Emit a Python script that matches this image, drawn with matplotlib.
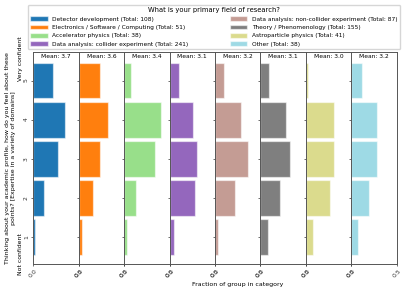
import matplotlib
matplotlib.use("Agg")
import matplotlib.pyplot as plt
import numpy as np

# answer levels (1 = not confident, 5 = very confident)
levels = [1, 2, 3, 4, 5]

groups = [
    "Detector development",
    "Electronics / Software / Computing",
    "Accelerator physics",
    "Data analysis: collider experiment",
    "Data analysis: non-collider experiment",
    "Theory / Phenomenology",
    "Astroparticle physics",
    "Other",
]
totals = [108, 51, 38, 241, 87, 155, 41, 38]
means = [3.7, 3.6, 3.4, 3.1, 3.2, 3.1, 3.0, 3.2]

# fraction of group per level
frac_detector = [0.019, 0.119, 0.270, 0.344, 0.222]
frac_electronics = [0.040, 0.155, 0.230, 0.320, 0.230]
frac_accelerator = [0.030, 0.130, 0.340, 0.410, 0.078]
frac_collider = [0.052, 0.280, 0.307, 0.255, 0.100]
frac_noncollider = [0.037, 0.218, 0.363, 0.285, 0.096]
frac_theory = [0.078, 0.210, 0.330, 0.278, 0.093]
frac_astro = [0.074, 0.263, 0.310, 0.310, 0.026]
frac_other = [0.070, 0.200, 0.278, 0.278, 0.122]

fractions = [frac_detector, frac_electronics, frac_accelerator, frac_collider,
             frac_noncollider, frac_theory, frac_astro, frac_other]

colors = ["#1f77b4", "#ff7f0e", "#98df8a", "#9467bd",
          "#c49c94", "#7f7f7f", "#dbdb8d", "#9edae5"]

fig = plt.figure(figsize=(4.07, 2.91), dpi=100)
left, right = 33.3 / 407, 396.7 / 407
bottom, top = 1 - 264 / 291, 1 - 52 / 291
fig.subplots_adjust(left=left, right=right, bottom=bottom, top=top, wspace=0)
axes = fig.subplots(1, len(groups), sharey=True)

handles = []
for i, ax in enumerate(axes):
    b = ax.barh(levels, fractions[i], height=0.92, color=colors[i],
                edgecolor=(1, 1, 1, 0.55), linewidth=0.9)
    handles.append(b[0])
    ax.set_xlim(0, 0.5)
    ax.set_ylim(0.3, 5.73)
    ax.set_xticks([0.0, 0.5])
    ax.set_xticklabels(["0.0", "0.5"], rotation=45, fontsize=4.4)
    ax.set_yticks(levels)
    ax.tick_params(length=1.6, width=0.5, pad=1.5, labelsize=4.4, colors="#333333")
    for s in ax.spines.values():
        s.set_linewidth(0.7)
        s.set_color("#555555")
    ax.text(0.5, 0.99, "Mean: %.1f" % means[i], transform=ax.transAxes,
            ha="center", va="top", fontsize=4.3)

axes[0].set_yticklabels([str(l) for l in levels], rotation=90, va="center")
axes[0].set_ylabel("Thinking about your academic profile, how do you feel about these\n"
                   "points? [Expertise in a variety of domains]", fontsize=4.5,
                   labelpad=6, linespacing=1.1)
axes[0].text(-0.28, 1.1, "Not confident", rotation=90, ha="center", va="top",
             fontsize=4.4, transform=axes[0].get_yaxis_transform())
axes[0].text(-0.28, 5.0, "Very confident", rotation=90, ha="center", va="bottom",
             fontsize=4.4, transform=axes[0].get_yaxis_transform())
axes[4].set_xlabel("Fraction of group in category", fontsize=4.5, labelpad=2)

labels = ["%s (Total: %d)" % (g, t) for g, t in zip(groups, totals)]
fig.legend(handles, labels, loc="upper left", ncol=2, mode="expand",
           bbox_to_anchor=(28 / 407, 1 - 49 / 291, 372 / 407, 44 / 291),
           title="What is your primary field of research?", fontsize=4.2,
           title_fontsize=4.9, handlelength=3, handleheight=0.9,
           handletextpad=0.8, borderaxespad=0, labelspacing=0.5,
           framealpha=0.8)

fig.savefig("out.png", dpi=100)
